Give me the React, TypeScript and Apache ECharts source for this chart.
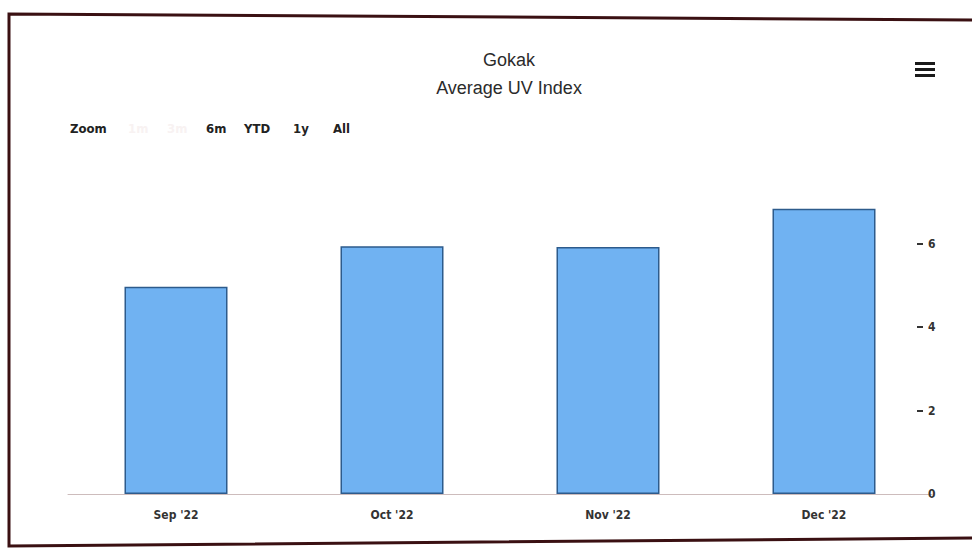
import React, { useEffect, useRef } from "react";
import * as echarts from "echarts";

const categories = ["Sep '22", "Oct '22", "Nov '22", "Dec '22"];
const uvValues = [4.97, 5.94, 5.92, 6.84];
const yTickValues = [2, 4, 6];
const yLabelValues = [0, 2, 4, 6];
const titleLines = ["Gokak", "Average UV Index"];
const rangeButtons = ["6m", "YTD", "1y", "All"];
const fadedButtons = ["1m", "3m"];

export default function App() {
  const ref = useRef<HTMLDivElement>(null);
  useEffect(() => {
    document.body.style.margin = "0";
    const chart = echarts.init(ref.current!, null, { renderer: "svg" });
    const font = "'Liberation Sans', Arial, sans-serif";
    const narrow = "'Liberation Sans Narrow', 'DejaVu Sans Condensed', 'Liberation Sans', sans-serif";
    const buttonX = [206, 244, 293, 333];
    const fadedX = [128, 167];
    chart.setOption({
      animation: false,
      backgroundColor: "#ffffff",
      title: {
        text: titleLines.join("\n"),
        left: 504,
        textAlign: "center",
        top: 41,
        textStyle: { fontSize: 18, lineHeight: 28, fontWeight: "normal", color: "#2b2b2b", fontFamily: font },
      },
      grid: { left: 68, right: 40, top: 202, bottom: 58 },
      xAxis: {
        type: "category",
        data: categories,
        axisLine: { show: true, lineStyle: { color: "#cdbcbc", width: 1 } },
        axisTick: { show: false },
        axisLabel: { margin: 15, fontSize: 12, fontWeight: "bold", color: "#333", fontFamily: narrow },
      },
      yAxis: {
        type: "value",
        position: "right",
        offset: -9,
        min: 0,
        max: 7,
        interval: 2,
        axisLine: { show: false },
        axisTick: { show: true, inside: true, length: 6, customValues: yTickValues, lineStyle: { color: "#333", width: 2 } },
        axisLabel: { margin: 5, fontSize: 12, fontWeight: "bold", color: "#333", fontFamily: narrow, customValues: yLabelValues },
        splitLine: { show: false },
      },
      series: [
        {
          type: "bar",
          data: uvValues,
          barWidth: 103,
          itemStyle: { color: "#70b2f2", borderColor: "#2d5b8c", borderWidth: 1.5 },
        },
      ],
      graphic: [
        {
          type: "polyline",
          shape: { points: [[972, 20], [9, 14], [9, 546], [972, 538]] },
          style: { stroke: "#3a1012", lineWidth: 3, fill: null },
        },
        {
          type: "text",
          x: 70,
          y: 128,
          style: { text: "Zoom", fontSize: 13, fontWeight: "bold", fill: "#222", fontFamily: narrow, textVerticalAlign: "middle" },
        },
        ...fadedButtons.map((t, i) => ({
          type: "text",
          x: fadedX[i],
          y: 128,
          style: { text: t, fontSize: 13, fontWeight: "bold", fill: "#f8f2f2", fontFamily: narrow, textVerticalAlign: "middle" },
        })),
        ...rangeButtons.map((t, i) => ({
          type: "text",
          x: buttonX[i],
          y: 128,
          style: { text: t, fontSize: 13, fontWeight: "bold", fill: "#222", fontFamily: narrow, textVerticalAlign: "middle" },
        })),
        { type: "rect", shape: { x: 915, y: 62, width: 20, height: 3 }, style: { fill: "#1a1a1a" } },
        { type: "rect", shape: { x: 915, y: 68, width: 20, height: 3 }, style: { fill: "#1a1a1a" } },
        { type: "rect", shape: { x: 915, y: 74, width: 20, height: 3 }, style: { fill: "#1a1a1a" } },
      ],
    });
    return () => chart.dispose();
  }, []);
  return <div ref={ref} style={{ width: 972, height: 552 }} />;
}
